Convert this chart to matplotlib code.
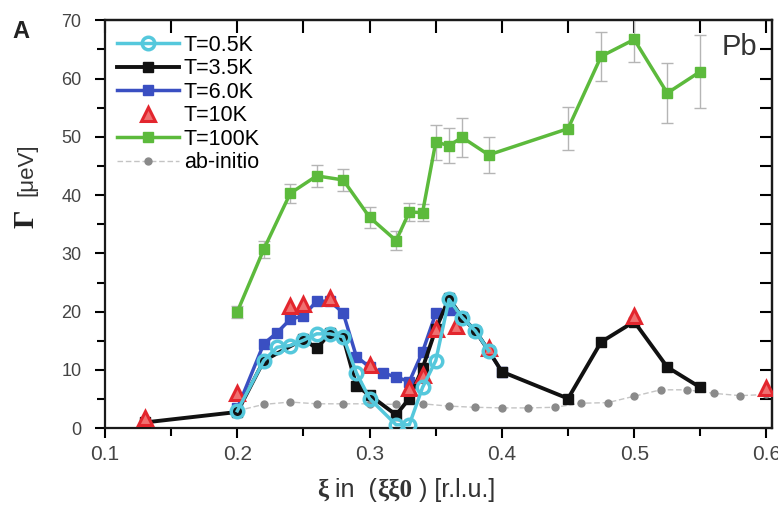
import matplotlib
matplotlib.use("Agg")
import matplotlib.pyplot as plt
from matplotlib.ticker import MultipleLocator, NullFormatter

plt.rcParams["font.family"] = ["Liberation Sans", "DejaVu Sans"]

# linewidths Gamma(xi) along (xi xi 0) for Pb
x_05K = [0.20, 0.22, 0.23, 0.24, 0.25, 0.26, 0.27, 0.28, 0.29, 0.30, 0.32, 0.33,
         0.34, 0.35, 0.36, 0.37, 0.38, 0.39]
g_05K = [3.0, 11.6, 13.9, 14.2, 15.1, 16.2, 16.2, 15.7, 9.5, 5.1, 0.6, 0.6,
         7.0, 11.6, 22.1, 19.0, 16.7, 13.3]

x_35K = [0.13, 0.20, 0.22, 0.25, 0.26, 0.27, 0.28, 0.29, 0.30, 0.32, 0.33, 0.34,
         0.35, 0.36, 0.37, 0.38, 0.39, 0.40, 0.45, 0.475, 0.50, 0.525, 0.55]
g_35K = [1.0, 2.8, 11.6, 15.3, 13.7, 16.3, 15.6, 7.3, 5.7, 2.3, 5.1, 10.3,
         17.0, 22.3, 19.0, 16.7, 13.3, 9.7, 5.1, 14.8, 18.3, 10.5, 7.0]

x_6K = [0.20, 0.22, 0.23, 0.24, 0.25, 0.26, 0.27, 0.28, 0.29, 0.30, 0.31, 0.32,
        0.33, 0.34, 0.35, 0.36, 0.37, 0.38, 0.39, 0.40]
g_6K = [3.4, 14.5, 16.4, 18.7, 19.3, 21.8, 21.8, 19.8, 12.3, 10.5, 9.5, 8.8,
        8.0, 13.1, 19.7, 20.3, 19.1, 16.7, 13.3, 9.7]

x_10K = [0.13, 0.20, 0.24, 0.25, 0.27, 0.30, 0.33, 0.34, 0.35, 0.365, 0.39, 0.50, 0.60]
g_10K = [1.7, 6.0, 21.0, 21.3, 22.4, 10.8, 6.9, 9.1, 17.1, 17.5, 13.7, 19.3, 6.9]

x_100K = [0.20, 0.22, 0.24, 0.26, 0.28, 0.30, 0.32, 0.33, 0.34, 0.35, 0.36, 0.37,
          0.39, 0.45, 0.475, 0.50, 0.525, 0.55]
g_100K = [20.0, 30.7, 40.3, 43.3, 42.6, 36.2, 32.2, 37.1, 37.0, 49.1, 48.5, 49.9,
          46.9, 51.4, 63.8, 66.7, 57.5, 61.2]
err_100K = [1.0, 1.5, 1.6, 1.9, 1.9, 1.8, 1.7, 1.5, 1.5, 3.0, 3.0, 3.3,
            3.1, 3.7, 4.2, 3.9, 5.1, 6.2]

x_ab = [0.20, 0.22, 0.24, 0.26, 0.28, 0.30, 0.32, 0.34, 0.36, 0.38, 0.40, 0.42,
        0.44, 0.46, 0.48, 0.50, 0.52, 0.54, 0.56, 0.58, 0.60]
g_ab = [3.0, 4.1, 4.5, 4.2, 4.2, 4.2, 4.1, 4.2, 3.8, 3.6, 3.5, 3.5,
        3.6, 4.3, 4.4, 5.5, 6.6, 6.6, 6.0, 5.6, 5.8]

c_cyan = "#55c8dc"
c_blue = "#3a4fc2"
c_red = "#e3262e"
c_green = "#5cba3c"

fig = plt.figure(figsize=(7.78, 5.12), dpi=100)
ax = fig.add_axes([0.135, 0.1635, 0.857, 0.797])

# error bars first so the green line sits on top
ax.errorbar(x_100K, g_100K, yerr=err_100K, fmt="none", ecolor="#b5b5b5",
            elinewidth=1.0, capsize=4, capthick=1.0, zorder=1)
l_100, = ax.plot(x_100K, g_100K, "-s", color=c_green, lw=2.5, ms=7,
                 mec=c_green, label="T=100K", zorder=2)
l_ab, = ax.plot(x_ab, g_ab, "--o", color="#c4c4c4", lw=1.0, ms=5,
                mfc="#8a8a8a", mec="#8a8a8a", dashes=(4, 2), label="ab-initio", zorder=2)
l_6, = ax.plot(x_6K, g_6K, "-s", color=c_blue, lw=2.5, ms=7, label="T=6.0K", zorder=3)
l_35, = ax.plot(x_35K, g_35K, "-s", color="#111111", lw=2.8, ms=7, label="T=3.5K", zorder=4)
l_10, = ax.plot(x_10K, g_10K, "^", ls="none", ms=9.5, mfc="#f07070", mec=c_red,
                mew=2.2, label="T=10K", zorder=5)
l_05, = ax.plot(x_05K, g_05K, "-o", color=c_cyan, lw=2.5, ms=9, mfc="none",
                mec=c_cyan, mew=2.5, label="T=0.5K", zorder=6)

ax.set_xlim(0.1, 0.604)
ax.set_ylim(0, 70)

# bottom/left ticks point outwards, labelled
ax.xaxis.set_major_locator(MultipleLocator(0.1))
ax.xaxis.set_minor_locator(MultipleLocator(0.05))
ax.yaxis.set_major_locator(MultipleLocator(10))
ax.yaxis.set_minor_locator(MultipleLocator(5))
ax.tick_params(axis="x", which="major", direction="out", length=7, width=1.5,
               labelsize=15, pad=5, labelcolor="#444444")
ax.tick_params(axis="x", which="minor", direction="out", length=5.5, width=1.5)
ax.tick_params(axis="y", which="major", direction="out", length=7, width=1.5,
               labelsize=13, pad=10, labelcolor="#444444")
ax.tick_params(axis="y", which="minor", direction="out", length=5.5, width=1.5)
ax.set_xticks([0.1, 0.2, 0.3, 0.4, 0.5, 0.6])
ax.set_xticklabels(["0.1", "0.2", "0.3", "0.4", "0.5", "0.6"])

# top/right ticks point inwards, no labels
top = ax.secondary_xaxis("top")
top.xaxis.set_major_locator(MultipleLocator(0.05))
top.xaxis.set_major_formatter(NullFormatter())
top.tick_params(direction="in", length=9, width=1.5)
right = ax.secondary_yaxis("right")
right.yaxis.set_major_locator(MultipleLocator(5))
right.yaxis.set_major_formatter(NullFormatter())
right.tick_params(direction="in", length=9, width=1.5)

for sp in list(ax.spines.values()) + [top.spines["top"], right.spines["right"]]:
    sp.set_linewidth(1.6)
    sp.set_color("#1a1a1a")

ax.legend(handles=[l_05, l_35, l_6, l_10, l_100, l_ab], loc="upper left",
          bbox_to_anchor=(0.018, 0.965), frameon=False, fontsize=15.5,
          handlelength=2.9, handletextpad=0.2, labelspacing=0.12,
          borderpad=0, borderaxespad=0, numpoints=1)

ax.text(0.978, 0.968, "Pb", transform=ax.transAxes, ha="right", va="top",
        fontsize=21, color="#333333")
fig.text(12 / 778, 1 - 38 / 512, "A", fontsize=17, fontweight="bold", color="#222222")

# y label: bold serif Gamma followed by unit
fig.text(26 / 778, 1 - 219 / 512, "Γ", rotation=90, ha="center", va="center",
         fontsize=21, fontweight="bold", family="Liberation Serif", color="#222222")
fig.text(27 / 778, 1 - 170 / 512, "[μeV]", rotation=90, ha="center", va="center",
         fontsize=16, color="#333333")

# x label with bold xi, built from chained pieces
pieces = [("ξ", "bold", "Liberation Serif"), (" in  (", "normal", "Liberation Sans"),
          ("ξξ0", "bold", "Liberation Serif"), (" ) [r.l.u.]", "normal", "Liberation Sans")]
last = fig.text(317 / 778, 1 - 502 / 512, pieces[0][0], fontsize=18,
                fontweight=pieces[0][1], family=pieces[0][2], color="#333333",
                va="bottom", ha="left")
for txt, wt, fam in pieces[1:]:
    last = ax.annotate(txt, xy=(1, 0), xycoords=last, va="bottom", ha="left",
                       fontsize=18, fontweight=wt, family=fam, color="#333333",
                       annotation_clip=False)

fig.savefig("out.png", dpi=100)
